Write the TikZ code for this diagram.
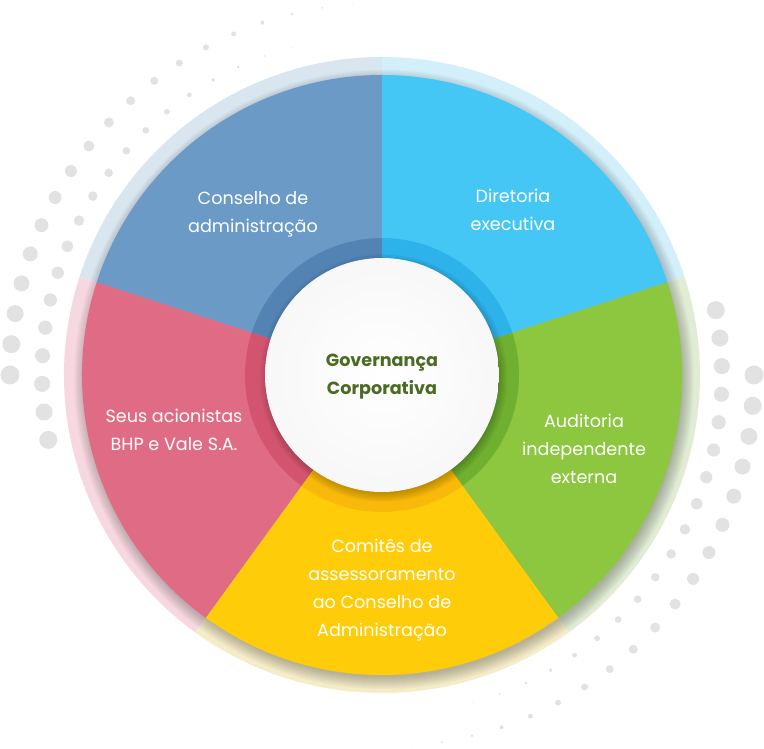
\documentclass[tikz,border=0pt]{standalone}
\usepackage{fontspec}
\setmainfont{Poppins}
\usetikzlibrary{positioning}

\definecolor{conselho}{HTML}{6A9AC5}
\definecolor{diretoria}{HTML}{44C7F4}
\definecolor{auditoria}{HTML}{8DC63F}
\definecolor{comites}{HTML}{FECC09}
\definecolor{acionistas}{HTML}{DF6C84}
\definecolor{conselhoesc}{HTML}{5283B3}
\definecolor{diretoriaesc}{HTML}{2EB2EA}
\definecolor{auditoriaesc}{HTML}{70B030}
\definecolor{comitesesc}{HTML}{F8B90A}
\definecolor{acionistasesc}{HTML}{D3546F}
\definecolor{conselhoclaro}{HTML}{D9E5EF}
\definecolor{diretoriaclaro}{HTML}{D3EFFA}
\definecolor{auditoriaclaro}{HTML}{E0ECD3}
\definecolor{comitesclaro}{HTML}{F5EDC8}
\definecolor{acionistasclaro}{HTML}{F7D8E0}
\definecolor{pontocinza}{HTML}{E2E2E2}
\definecolor{verdeescuro}{HTML}{4B6B23}

\begin{document}
\begin{tikzpicture}[x=1pt,y=1pt,
  rotulo/.style={text=white,align=center,font=\fontsize{17.6}{28}\selectfont},
  ponto/.style={fill=pontocinza}]

% Area do desenho
\useasboundingbox (-382,-374) rectangle (382,375);
\coordinate (centro) at (0,0);

% Pontos decorativos (duas fileiras de cada lado)
\foreach \rot in {0,180}
  \foreach \i in {0,...,18} {
    \fill[ponto] ({180+\rot-4.75*\i}:372) circle ({max(0.5,9.5-0.5*\i)});
    \fill[ponto] ({191+\rot-4.75*\i}:340) circle ({max(0.5,9-0.47*\i)});
  }

% Anel externo claro
\fill[conselhoclaro] (centro) -- (90:318) arc[start angle=90,end angle=162,radius=318] -- cycle;
\fill[diretoriaclaro] (centro) -- (18:318) arc[start angle=18,end angle=90,radius=318] -- cycle;
\fill[auditoriaclaro] (centro) -- (-54:318) arc[start angle=-54,end angle=18,radius=318] -- cycle;
\fill[comitesclaro] (centro) -- (-126:318) arc[start angle=-126,end angle=-54,radius=318] -- cycle;
\fill[acionistasclaro] (centro) -- (162:318) arc[start angle=162,end angle=234,radius=318] -- cycle;

% Sombra do circulo colorido
\foreach \s in {0,...,12}
  \fill[black,opacity=0.02] (2,-4.5) circle (298+\s);

% Setores
\fill[conselho] (centro) -- (90:300) arc[start angle=90,end angle=162,radius=300] -- cycle;
\fill[diretoria] (centro) -- (18:300) arc[start angle=18,end angle=90,radius=300] -- cycle;
\fill[auditoria] (centro) -- (-54:300) arc[start angle=-54,end angle=18,radius=300] -- cycle;
\fill[comites] (centro) -- (-126:300) arc[start angle=-126,end angle=-54,radius=300] -- cycle;
\fill[acionistas] (centro) -- (162:300) arc[start angle=162,end angle=234,radius=300] -- cycle;

% Anel interno escuro
\fill[conselhoesc] (centro) -- (90:137) arc[start angle=90,end angle=162,radius=137] -- cycle;
\fill[diretoriaesc] (centro) -- (18:137) arc[start angle=18,end angle=90,radius=137] -- cycle;
\fill[auditoriaesc] (centro) -- (-54:137) arc[start angle=-54,end angle=18,radius=137] -- cycle;
\fill[comitesesc] (centro) -- (-126:137) arc[start angle=-126,end angle=-54,radius=137] -- cycle;
\fill[acionistasesc] (centro) -- (162:137) arc[start angle=162,end angle=234,radius=137] -- cycle;

% Sombra do circulo central
\foreach \s in {0,...,10}
  \fill[black,opacity=0.025] (1.5,-3) circle (114+\s);

% Circulo central
\shade[inner color=white,outer color=gray!6] (centro) circle (117);
\node[font=\fontsize{17.6}{28}\selectfont\bfseries,text=verdeescuro,align=center] (governanca) at (0,-2) {Governança\\Corporativa};

% Textos dos setores
\node[rotulo] (conselhotxt) at (-129,161) {Conselho de\\administração};
\node[rotulo] (diretoriatxt) at (131,165) {Diretoria\\executiva};
\node[rotulo] (auditoriatxt) at (202,-74) {Auditoria\\independente\\externa};
\node[rotulo] (comitestxt) at (0,-215) {Comitês de\\assessoramento\\ao Conselho de\\Administração};
\node[rotulo] (acionistastxt) at (-208,-55) {Seus acionistas\\BHP e Vale S.A.};

\end{tikzpicture}
\end{document}
